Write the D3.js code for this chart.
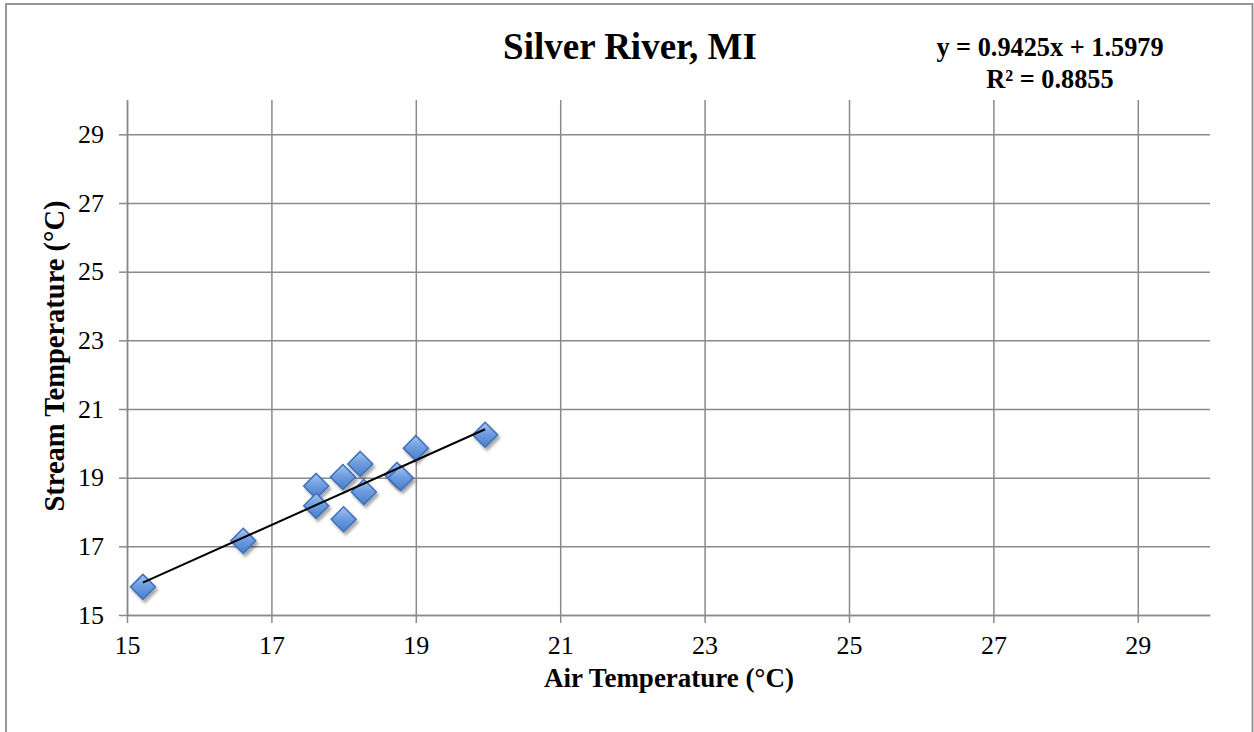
<!DOCTYPE html>
<html>
<head>
<meta charset="utf-8">
<script src="https://cdn.jsdelivr.net/npm/d3@7/dist/d3.min.js"></script>
<style>
html,body{margin:0;padding:0;background:#fff;}
svg{display:block;}
text{font-family:"Liberation Serif","Times New Roman",serif;fill:#000;}
</style>
</head>
<body>
<svg id="chart" width="1254" height="732"></svg>
<script>
const title = "Silver River, MI";
const xLabel = "Air Temperature (°C)";
const yLabel = "Stream Temperature (°C)";
const equationLines = ["y = 0.9425x + 1.5979", "R² = 0.8855"];
const xDomain = [15, 30];
const yDomain = [15, 30];
const xTicks = [15, 17, 19, 21, 23, 25, 27, 29];
const yTicks = [15, 17, 19, 21, 23, 25, 27, 29];
const airTemp =    [15.22, 16.61, 17.62, 17.62, 17.99, 18.00, 18.23, 18.28, 18.74, 18.79, 19.00, 19.96];
const streamTemp = [15.82, 17.16, 18.76, 18.18, 19.02, 17.79, 19.40, 18.58, 19.08, 18.99, 19.86, 20.25];
const slope = 0.9425;
const intercept = 1.5979;

const svg = d3.select("#chart");
const m = {left:127, right:1210, top:100, bottom:615};
const grid = "#8a8a8a";

// outer border
svg.append("rect").attr("x",6).attr("y",4).attr("width",1246.5).attr("height",740)
  .attr("fill","#fff").attr("stroke","#8c8c8c").attr("stroke-width",1.8);

const x = d3.scaleLinear().domain(xDomain).range([m.left, m.right]);
const y = d3.scaleLinear().domain(yDomain).range([m.bottom, m.top]);

const defs = svg.append("defs");
const grad = defs.append("linearGradient").attr("id","mk").attr("x1",0).attr("y1",0).attr("x2",0).attr("y2",1);
grad.append("stop").attr("offset","0%").attr("stop-color","#a9c6ef");
grad.append("stop").attr("offset","45%").attr("stop-color","#6f9de0");
grad.append("stop").attr("offset","100%").attr("stop-color","#4a7fcd");
const f = defs.append("filter").attr("id","sh").attr("x","-50%").attr("y","-50%").attr("width","200%").attr("height","200%");
f.append("feGaussianBlur").attr("in","SourceAlpha").attr("stdDeviation",1.6).attr("result","b");
f.append("feOffset").attr("in","b").attr("dx",2).attr("dy",3).attr("result","o");
f.append("feComponentTransfer").attr("in","o").attr("result","o2")
  .append("feFuncA").attr("type","linear").attr("slope",0.35);
const fm = f.append("feMerge");
fm.append("feMergeNode").attr("in","o2");
fm.append("feMergeNode").attr("in","SourceGraphic");

// gridlines
const gx = svg.append("g")
  .attr("transform",`translate(0,${m.bottom})`)
  .call(d3.axisBottom(x).tickValues(xTicks).tickSize(-(m.bottom-m.top)).tickFormat(""));
gx.select(".domain").remove();
gx.selectAll(".tick line").attr("stroke",grid).attr("stroke-width",1.5);
const gy = svg.append("g")
  .attr("transform",`translate(${m.left},0)`)
  .call(d3.axisLeft(y).tickValues(yTicks).tickSize(-(m.right-m.left)).tickFormat(""));
gy.select(".domain").remove();
gy.selectAll(".tick line").attr("stroke",grid).attr("stroke-width",1.5);

// axes
const ax = svg.append("g").attr("transform",`translate(0,${m.bottom})`)
  .call(d3.axisBottom(x).tickValues(xTicks).tickSize(8).tickSizeOuter(0).tickPadding(13));
ax.select(".domain").attr("stroke",grid).attr("stroke-width",1.5);
ax.selectAll(".tick line").attr("stroke",grid).attr("stroke-width",1.5);
ax.selectAll(".tick text").style("font-family",'"Liberation Serif",serif').style("font-size","26px").attr("fill","#000");

const ay = svg.append("g").attr("transform",`translate(${m.left},0)`)
  .call(d3.axisLeft(y).tickValues(yTicks).tickSize(8).tickSizeOuter(0).tickPadding(15));
ay.select(".domain").attr("stroke",grid).attr("stroke-width",1.5);
ay.selectAll(".tick line").attr("stroke",grid).attr("stroke-width",1.5);
ay.selectAll(".tick text").style("font-family",'"Liberation Serif",serif').style("font-size","26px").attr("fill","#000");

// points
const pts = airTemp.map((v,i)=>({x:v,y:streamTemp[i]}));
const r = 12.5;
svg.append("g").selectAll("path").data(pts).join("path")
  .attr("d", d => {const cx=x(d.x), cy=y(d.y); return `M${cx},${cy-r}L${cx+r},${cy}L${cx},${cy+r}L${cx-r},${cy}Z`;})
  .attr("fill","url(#mk)").attr("stroke","#3f70b8").attr("stroke-width",1.5)
  .attr("filter","url(#sh)");

// trend line
const xmin = d3.min(airTemp), xmax = d3.max(airTemp);
svg.append("line")
  .attr("x1",x(xmin)).attr("y1",y(slope*xmin+intercept))
  .attr("x2",x(xmax)).attr("y2",y(slope*xmax+intercept))
  .attr("stroke","#000").attr("stroke-width",2);

// titles
svg.append("text").attr("x",630).attr("y",59).attr("text-anchor","middle")
  .style("font-size","37px").style("font-weight","bold").text(title);
svg.append("text").attr("x",1050).attr("y",56).attr("text-anchor","middle")
  .style("font-size","26.3px").style("font-weight","bold").text(equationLines[0]);
svg.append("text").attr("x",1050).attr("y",88).attr("text-anchor","middle")
  .style("font-size","26.3px").style("font-weight","bold").text(equationLines[1]);
svg.append("text").attr("x",669).attr("y",687).attr("text-anchor","middle")
  .style("font-size","27px").style("font-weight","bold").text(xLabel);
svg.append("text").attr("transform",`translate(64,356) rotate(-90)`)
  .attr("text-anchor","middle")
  .style("font-size","28.5px").style("font-weight","bold").text(yLabel);
</script>
</body>
</html>
